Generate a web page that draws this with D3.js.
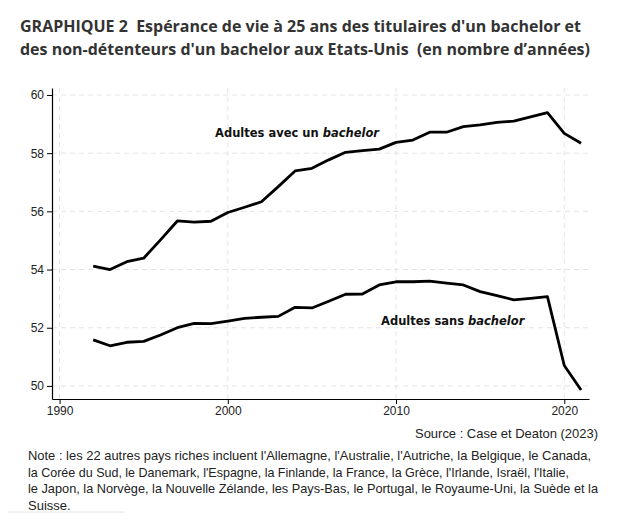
<!DOCTYPE html>
<html>
<head>
<meta charset="utf-8">
<script src="https://cdn.jsdelivr.net/npm/d3@7"></script>
<style>
  body { margin: 0; background: #fff; }
  svg { display: block; }
</style>
</head>
<body>
<div id="chart"></div>
<script>
// data
const years = d3.range(1992, 2022);
const avecBachelor = [54.12, 54.0, 54.27, 54.39, 55.02, 55.67, 55.63, 55.66, 55.96, 56.14,
  56.33, 56.85, 57.39, 57.48, 57.77, 58.03, 58.09, 58.14, 58.37, 58.45,
  58.72, 58.72, 58.91, 58.97, 59.06, 59.1, 59.25, 59.39, 58.68, 58.34];
const sansBachelor = [51.58, 51.38, 51.5, 51.53, 51.75, 52.0, 52.15, 52.14, 52.23, 52.32,
  52.36, 52.39, 52.7, 52.68, 52.91, 53.15, 53.16, 53.47, 53.58, 53.58,
  53.6, 53.53, 53.47, 53.24, 53.1, 52.96, 53.01, 53.07, 50.7, 49.86];
const xTicks = [1990, 2000, 2010, 2020];
const yTicks = [50, 52, 54, 56, 58, 60];
const titleLines = [
  "GRAPHIQUE 2  Espérance de vie à 25 ans des titulaires d'un bachelor et",
  "des non-détenteurs d'un bachelor aux Etats-Unis  (en nombre d’années)"
];
const noteLines = [
  "Note : les 22 autres pays riches incluent l'Allemagne, l'Australie, l'Autriche, la Belgique, le Canada,",
  "la Corée du Sud, le Danemark, l'Espagne, la Finlande, la France, la Grèce, l'Irlande, Israël, l'Italie,",
  "le Japon, la Norvège, la Nouvelle Zélande, les Pays-Bas, le Portugal, le Royaume-Uni, la Suède et la",
  "Suisse."
];
const sourceText = "Source : Case et Deaton (2023)";

const width = 624, height = 524;
const plotLeft = 52, plotRight = 589, plotTop = 88, plotBottom = 399;

const svg = d3.select("#chart").append("svg")
  .attr("width", width)
  .attr("height", height);

const x = d3.scaleLinear().domain([1989.55, 2021.47]).range([plotLeft, plotRight]);
const y = d3.scaleLinear().domain([49.55, 60.24]).range([plotBottom, plotTop]);

// title (keep the double spaces)
svg.append("g").selectAll("text")
  .data(titleLines)
  .enter()
  .append("text")
  .attr("x", 20)
  .attr("y", (d, i) => 32 + i * 23)
  .attr("textLength", (d, i) => i === 0 ? 561 : 570)
  .attr("lengthAdjust", "spacingAndGlyphs")
  .style("white-space", "pre")
  .style("font-family", "'Open Sans', sans-serif")
  .style("font-weight", 700)
  .style("font-size", "16.5px")
  .style("fill", "#333")
  .text(d => d);

// grid
const grid = svg.append("g")
  .style("stroke", "#e4e4e4")
  .style("stroke-width", 1)
  .style("stroke-dasharray", "5,4");

grid.selectAll(".hy")
  .data(yTicks)
  .enter()
  .append("line")
  .attr("x1", plotLeft)
  .attr("x2", plotRight)
  .attr("y1", d => y(d))
  .attr("y2", d => y(d));

grid.selectAll(".vx")
  .data(xTicks)
  .enter()
  .append("line")
  .attr("x1", d => x(d))
  .attr("x2", d => x(d))
  .attr("y1", plotTop)
  .attr("y2", plotBottom);

// axes
const yAxis = svg.append("g")
  .attr("transform", `translate(${plotLeft},0)`)
  .call(d3.axisLeft(y).tickValues(yTicks).tickSize(5).tickPadding(3).tickSizeOuter(0));

const xAxis = svg.append("g")
  .attr("transform", `translate(0,${plotBottom})`)
  .call(d3.axisBottom(x).tickValues(xTicks).tickSize(5).tickPadding(2).tickFormat(d3.format("d")).tickSizeOuter(0));

[yAxis, xAxis].forEach(a => {
  a.select(".domain").style("stroke", "#000").style("stroke-width", 1.2);
  a.selectAll(".tick line").style("stroke", "#000");
  a.selectAll("text")
    .style("font-family", "'Liberation Sans', Arial, sans-serif")
    .style("font-size", "12px")
    .style("fill", "#222");
});

// lines
const line = d3.line()
  .x((d, i) => x(years[i]))
  .y(d => y(d));

svg.append("g").selectAll("path")
  .data([avecBachelor, sansBachelor])
  .enter()
  .append("path")
  .attr("d", line)
  .style("fill", "none")
  .style("stroke", "#000")
  .style("stroke-width", 2.8)
  .style("stroke-linejoin", "round");

// series labels
function seriesLabel(px, py, first) {
  const t = svg.append("text")
    .attr("x", px)
    .attr("y", py)
    .style("font-family", "'DejaVu Sans', Verdana, sans-serif")
    .style("font-weight", 700)
    .style("font-size", "11.5px")
    .style("fill", "#111");
  t.append("tspan").text(first);
  t.append("tspan").style("font-style", "italic").text("bachelor");
}
seriesLabel(215, 137, "Adultes avec un ");
seriesLabel(381, 325, "Adultes sans ");

// source + note
svg.append("text")
  .attr("x", 598)
  .attr("y", 438)
  .attr("text-anchor", "end")
  .attr("textLength", 183)
  .attr("lengthAdjust", "spacingAndGlyphs")
  .style("font-family", "'Liberation Sans', Arial, sans-serif")
  .style("font-size", "13px")
  .style("fill", "#222")
  .text(sourceText);

svg.append("g").selectAll("text")
  .data(noteLines)
  .enter()
  .append("text")
  .attr("x", 28)
  .attr("y", (d, i) => 460 + i * 16.5)
  .attr("textLength", (d, i) => [563, 541, 570, null][i])
  .attr("lengthAdjust", "spacingAndGlyphs")
  .style("font-family", "'Liberation Sans', Arial, sans-serif")
  .style("font-size", "13px")
  .style("fill", "#222")
  .text(d => d);

svg.append("line")
  .attr("x1", 8).attr("x2", 125)
  .attr("y1", 512).attr("y2", 512)
  .style("stroke", "#e6e6e6");
</script>
</body>
</html>
